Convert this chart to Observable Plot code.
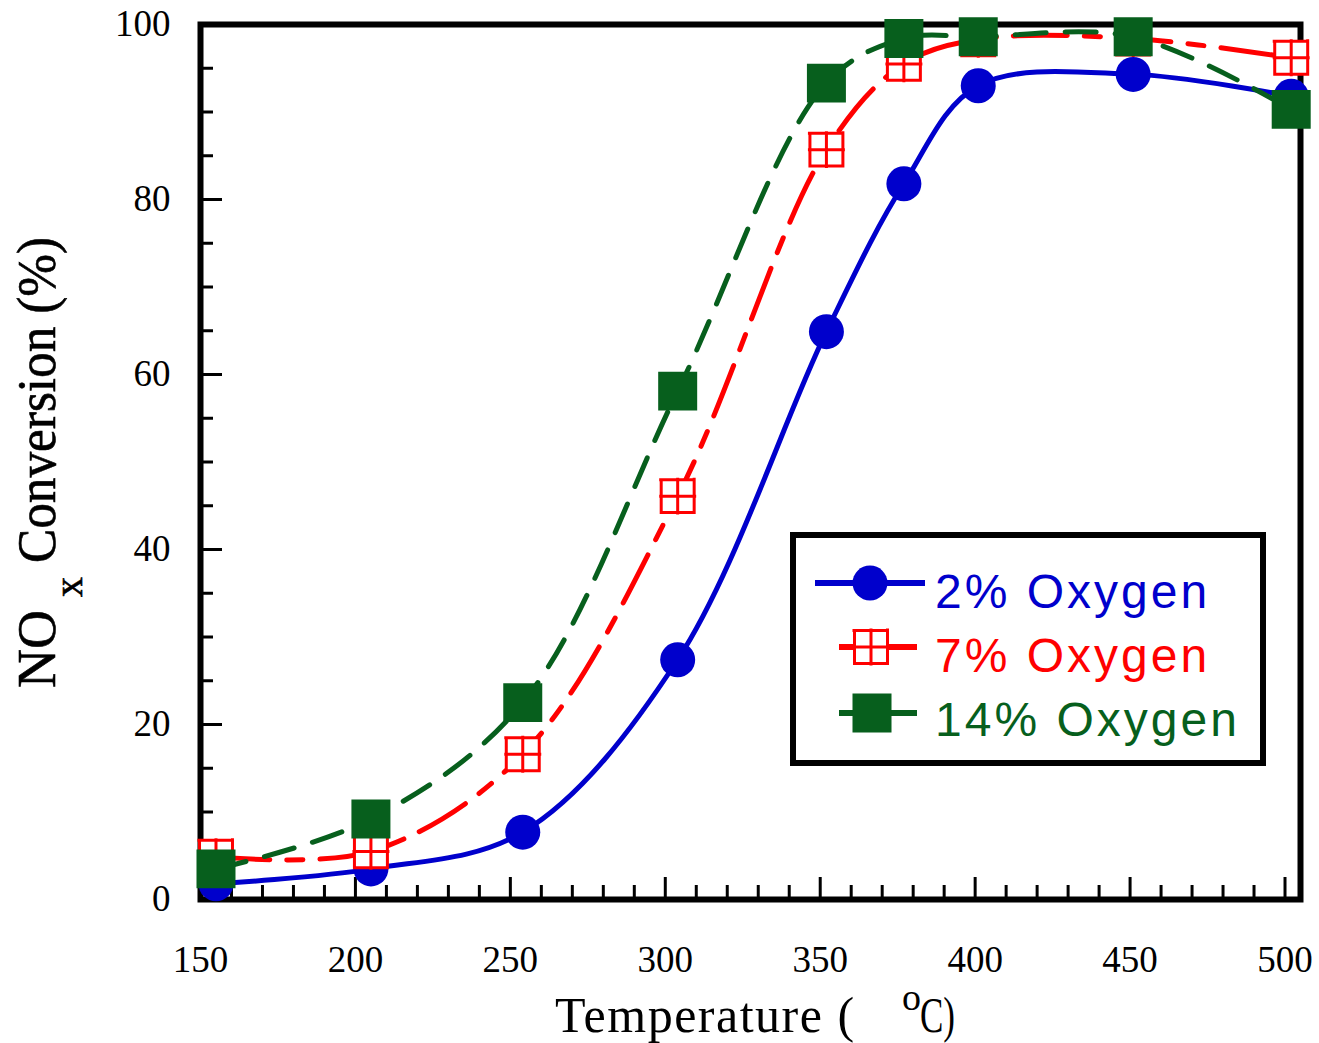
<!DOCTYPE html>
<html>
<head>
<meta charset="utf-8">
<script src="https://cdn.jsdelivr.net/npm/d3@7"></script>
<script src="https://cdn.jsdelivr.net/npm/@observablehq/plot@0.6"></script>
<style>
  body { margin: 0; background: #fff; }
  #chart svg { display: block; }
</style>
</head>
<body>
<div id="chart"></div>
<script>
// ---- data ----
const temps = [155, 205, 254, 304, 352, 377, 401, 451, 502];
const oxygen2 = [1.8, 3.5, 7.7, 27.4, 64.9, 81.8, 93.0, 94.3, 91.8];
const oxygen7 = [4.9, 5.5, 16.6, 46.1, 85.7, 95.5, 98.3, 98.4, 96.2];
const oxygen14 = [3.5, 9.2, 22.5, 58.1, 93.3, 98.4, 98.6, 98.6, 90.3];
const seriesNames = ["2% Oxygen", "7% Oxygen", "14% Oxygen"];
const seriesColors = ["#0000cc", "#ff0000", "#075f1d"];
const xTickLabels = [150, 200, 250, 300, 350, 400, 450, 500];
const yTickLabels = [0, 20, 40, 60, 80, 100];
const xMinorTicks = d3.range(160, 500, 10).filter(v => v % 50 !== 0);
const yMinorTicks = d3.range(5, 100, 5).filter(v => v % 20 !== 0);

const toRows = (vals) => temps.map((t, i) => ({t, v: vals[i]}));
const s2 = toRows(oxygen2), s7 = toRows(oxygen7), s14 = toRows(oxygen14);

// square with a cross (⊞) marker
const gridSymbol = {
  draw(ctx, size) {
    const s = Math.sqrt(size) / 2, e = 2;
    ctx.moveTo(-s, -s); ctx.lineTo(s, -s); ctx.lineTo(s, s); ctx.lineTo(-s, s); ctx.closePath();
    ctx.moveTo(0, -s - e); ctx.lineTo(0, s + e);
    ctx.moveTo(-s - e, 0); ctx.lineTo(s + e, 0);
    ctx.moveTo(-s - e, -s); ctx.lineTo(-s, -s);
    ctx.moveTo(s, -s - e); ctx.lineTo(s, -s);
  }
};

const W = 1319, H = 1043;
const mL = 200, mR = 19, mT = 24, mB = 144;
const plotW = W - mL - mR, plotH = H - mT - mB;
const serif = "Liberation Serif, Times New Roman, serif";

const plot = Plot.plot({
  width: W, height: H,
  marginLeft: mL, marginRight: mR, marginTop: mT, marginBottom: mB,
  style: {background: "white", fontFamily: serif},
  x: {domain: [150, 505]},
  y: {domain: [0, 100]},
  marks: [
    Plot.frame({stroke: "black", strokeWidth: 6}),
    Plot.tickX(xTickLabels, {x: d => d, insetTop: plotH - 22, stroke: "black", strokeWidth: 3}),
    Plot.tickX(xMinorTicks, {x: d => d, insetTop: plotH - 14, stroke: "black", strokeWidth: 3}),
    Plot.tickY(yTickLabels, {y: d => d, insetRight: plotW - 22, stroke: "black", strokeWidth: 3}),
    Plot.tickY(yMinorTicks, {y: d => d, insetRight: plotW - 13, stroke: "black", strokeWidth: 3}),
    Plot.axisX({ticks: xTickLabels, tickSize: 0, tickPadding: 46, fontSize: 37, fontFamily: serif, label: null}),
    Plot.axisY({ticks: yTickLabels, tickSize: 0, tickPadding: 30, fontSize: 37, fontFamily: serif, label: null}),
    // 2% oxygen
    Plot.line(s2, {x: "t", y: "v", curve: "catmull-rom", stroke: seriesColors[0], strokeWidth: 5}),
    Plot.dot(s2, {x: "t", y: "v", r: 17.5, fill: seriesColors[0], symbol: "circle"}),
    // 7% oxygen
    Plot.line(s7, {x: "t", y: "v", curve: "catmull-rom", stroke: seriesColors[1], strokeWidth: 5, strokeDasharray: "54,17,16,17"}),
    Plot.dot(s7, {x: "t", y: "v", r: 18.6, fill: "white", stroke: seriesColors[1], strokeWidth: 3, symbol: gridSymbol}),
    // 14% oxygen
    Plot.line(s14, {x: "t", y: "v", curve: "catmull-rom", stroke: seriesColors[2], strokeWidth: 5, strokeDasharray: "31,19"}),
    Plot.dot(s14, {x: "t", y: "v", r: 22, fill: seriesColors[2], symbol: "square"})
  ]
});

const svg = d3.select(plot);

// axis titles
const xt = svg.append("text")
  .attr("x", 555).attr("y", 1032).attr("text-anchor", "start")
  .attr("font-family", serif).attr("font-size", 50).attr("letter-spacing", 1.5)
  .attr("fill", "black");
xt.append("tspan").text("Temperature ( ");
xt.append("tspan").attr("x", 902).attr("dy", -22).attr("font-size", 38).attr("letter-spacing", 0).text("o");
xt.append("tspan").attr("x", 920).attr("dy", 22).attr("letter-spacing", 0)
  .attr("textLength", 35).attr("lengthAdjust", "spacingAndGlyphs").text("C)");

const yt = svg.append("text")
  .attr("transform", "translate(55,688) rotate(-90)").attr("text-anchor", "start")
  .attr("font-family", serif).attr("font-size", 54)
  .attr("fill", "black").attr("stroke", "black").attr("stroke-width", 0.6);
yt.append("tspan").attr("x", 0).text("NO");
yt.append("tspan").attr("x", 91).attr("dy", 27).attr("font-size", 40).text("x");
yt.append("tspan").attr("x", 125).attr("dy", -27)
  .attr("textLength", 326).attr("lengthAdjust", "spacingAndGlyphs").text("Conversion (%)");

// legend
const lg = svg.append("g");
lg.append("rect").attr("x", 793).attr("y", 535).attr("width", 470).attr("height", 228)
  .attr("fill", "white").attr("stroke", "black").attr("stroke-width", 6);
const legendRows = [
  {y: 583, x1: 815, x2: 925, mx: 870, ty: 608, sym: d3.symbolCircle, size: Math.PI * 17.5 * 17.5, fill: seriesColors[0], stroke: "none", sw: 0},
  {y: 647, x1: 839, x2: 917, mx: 871, ty: 672, sym: gridSymbol, size: 33 * 33, fill: "white", stroke: seriesColors[1], sw: 3},
  {y: 713, x1: 839, x2: 917, mx: 872, ty: 736, sym: d3.symbolSquare, size: 39 * 39, fill: seriesColors[2], stroke: "none", sw: 0}
];
legendRows.forEach((r, i) => {
  lg.append("line").attr("x1", r.x1).attr("x2", r.x2).attr("y1", r.y).attr("y2", r.y)
    .attr("stroke", seriesColors[i]).attr("stroke-width", 6);
  lg.append("path").attr("transform", `translate(${r.mx},${r.y})`)
    .attr("d", d3.symbol(r.sym, r.size)())
    .attr("fill", r.fill).attr("stroke", r.stroke).attr("stroke-width", r.sw);
  lg.append("text").attr("x", 935).attr("y", r.ty).attr("text-anchor", "start")
    .attr("font-family", "Liberation Sans, Arial, sans-serif").attr("font-size", 48)
    .attr("letter-spacing", 3).attr("fill", seriesColors[i]).text(seriesNames[i]);
});

document.getElementById("chart").appendChild(plot);
</script>
</body>
</html>
